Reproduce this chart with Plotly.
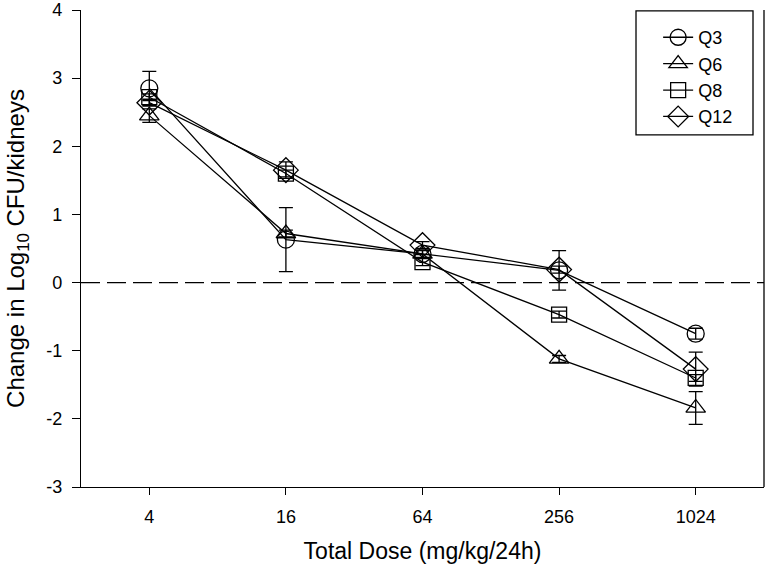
import plotly.graph_objects as go

doses = [4, 16, 64, 256, 1024]
series_names = ["Q3", "Q6", "Q8", "Q12"]
q3 = [2.85, 0.63, 0.42, 0.18, -0.75]
q3_err = [0.25, 0.47, 0.06, 0.29, 0.08]
q6 = [2.45, 0.72, 0.42, -1.12, -1.84]
q6_err = [0.10, 0.05, 0.05, 0.05, 0.24]
q8 = [2.72, 1.60, 0.30, -0.47, -1.40]
q8_err = [0.05, 0.05, 0.05, 0.05, 0.05]
q12 = [2.64, 1.65, 0.55, 0.19, -1.27]
q12_err = [0.05, 0.12, 0.05, 0.05, 0.25]
y_ticks = [-3, -2, -1, 0, 1, 2, 3, 4]
y_tick_labels = ["-3", "-2", "-1", "0", "1", "2", "3", "4"]

values = [q3, q6, q8, q12]
errors = [q3_err, q6_err, q8_err, q12_err]
symbols = ["circle-open", "triangle-up-open", "square-open", "diamond-open"]
sizes = [17, 17, 15, 19]

fig = go.Figure()
for name, v, e, s, sz in zip(series_names, values, errors, symbols, sizes):
    fig.add_trace(go.Scatter(
        x=doses, y=v, name=name, mode="lines+markers",
        line=dict(color="black", width=1.3),
        marker=dict(symbol=s, size=sz, color="black", line=dict(width=1.3, color="black")),
        error_y=dict(type="data", array=e, color="black", thickness=1.3, width=7),
    ))

fig.add_hline(y=0, line=dict(color="black", width=1.3, dash="19px,7px"), layer="below")
# right frame line
fig.add_shape(type="line", xref="paper", yref="paper", x0=1, x1=1, y0=0, y1=1,
              line=dict(color="black", width=1.3))
# legend frame
fig.add_shape(type="rect", xref="paper", yref="paper", x0=0.8126, x1=0.9839,
              y0=0.738, y1=0.998, line=dict(color="black", width=1.3),
              fillcolor="rgba(0,0,0,0)", layer="below")

fig.update_layout(
    width=766, height=567,
    margin=dict(l=81, r=2, t=10, b=80, autoexpand=False),
    paper_bgcolor="white", plot_bgcolor="white",
    font=dict(family="Liberation Sans, Arial, sans-serif", color="black", size=17),
    showlegend=True,
    legend=dict(x=0.845, y=0.981, xanchor="left", yanchor="top",
                borderwidth=0, bgcolor="rgba(0,0,0,0)",
                font=dict(size=18), itemsizing="trace", tracegroupgap=0),
)
fig.update_xaxes(type="log", range=[0.30103, 3.31133], tickvals=doses,
                 ticktext=[str(d) for d in doses], automargin=False,
                 ticks="outside", ticklen=7, tickcolor="black", tickwidth=1.3,
                 showline=True, linecolor="black", linewidth=1.3, showgrid=False,
                 zeroline=False, tickfont=dict(size=18), ticklabelstandoff=6,
                 ticklabeloverflow="allow",
                 title=dict(text="Total Dose (mg/kg/24h)", font=dict(size=23), standoff=17))
fig.update_yaxes(range=[-3, 4], tickvals=y_ticks, ticktext=y_tick_labels, automargin=False,
                 ticks="outside", ticklen=8,
                 tickcolor="black", tickwidth=1.3, showline=True, linecolor="black",
                 linewidth=1.3, showgrid=False, zeroline=False, tickfont=dict(size=18),
                 ticklabelstandoff=6, ticklabeloverflow="allow",
                 title=dict(text="Change in Log<sub>10</sub> CFU/kidneys", font=dict(size=24), standoff=14))

fig.write_html("out.html", config={"displayModeBar": False},
               post_script="document.body.style.margin='0';window.dispatchEvent(new Event('resize'));")
